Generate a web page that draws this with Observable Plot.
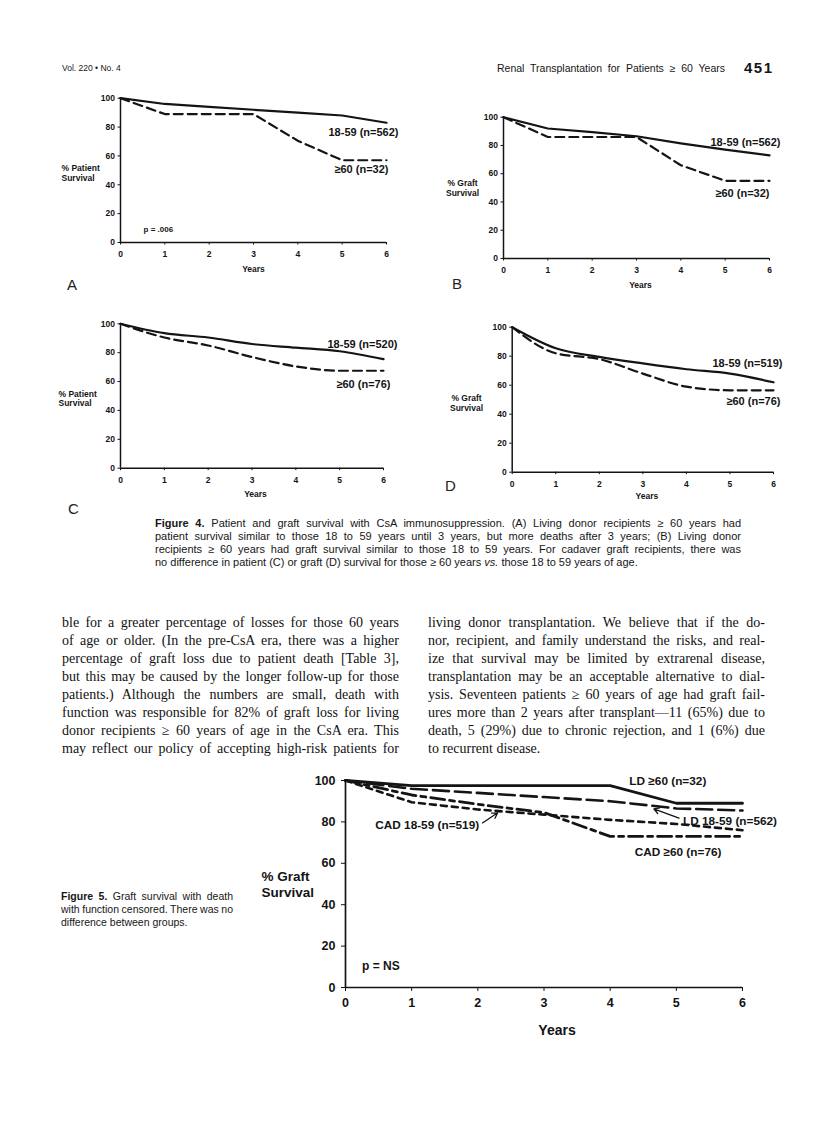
<!DOCTYPE html>
<html>
<head>
<meta charset="utf-8">
<script src="https://cdn.jsdelivr.net/npm/d3@7"></script>
<script src="https://cdn.jsdelivr.net/npm/@observablehq/plot@0.6"></script>
<style>
html,body{margin:0;padding:0;background:#fff;}
#page{position:relative;width:816px;height:1121px;overflow:hidden;background:#fff;color:#161616;font-family:"Liberation Sans",Arial,Helvetica,sans-serif;}
.t{position:absolute;white-space:nowrap;}
.chart{position:absolute;}
.chart svg{overflow:visible;}
</style>
</head>
<body>
<div id="page"></div>
<script>
// ---------- data ----------
const years = [0, 1, 2, 3, 4, 5, 6];
const yTicks = [0, 20, 40, 60, 80, 100];

// Figure 4A: patient survival, living donor
const aYoung = [100, 96, 94, 92, 90, 88, 83];
const aOld = [100, 89, 89, 89, 70.5, 57, 57];
// Figure 4B: graft survival, living donor
const bYoung = [100, 92, 89.5, 86.5, 81.5, 77, 73];
const bOld = [100, 86, 86, 86, 66, 55, 55];
// Figure 4C: patient survival, cadaver
const cYoung = [100, 93.5, 90.5, 86, 83.5, 81, 75.5];
const cOld = [100, 90.5, 85, 77, 70.5, 67.5, 67.5];
// Figure 4D: graft survival, cadaver
const dYoung = [100, 85.5, 79.5, 75, 71, 68, 62];
const dOld = [100, 82, 78, 68, 59, 56.5, 56.5];
// Figure 5: graft survival, death with function censored
const f5LdOld = [100, 97.5, 97.5, 97.5, 97.5, 89, 89];
const f5LdYoung = [100, 96, 94, 92, 90, 86.5, 85.5];
const f5CadYoung = [100, 89.5, 86, 83.5, 81, 79, 76];
const f5CadOld = [100, 93, 88.5, 84.5, 73, 73, 73];

const aNames = ["18-59 (n=562)", "≥60 (n=32)"];
const bNames = ["18-59 (n=562)", "≥60 (n=32)"];
const cNames = ["18-59 (n=520)", "≥60 (n=76)"];
const dNames = ["18-59 (n=519)", "≥60 (n=76)"];
const f5Names = ["LD ≥60 (n=32)", "LD 18-59 (n=562)", "CAD 18-59 (n=519)", "CAD ≥60 (n=76)"];

const headerLeft = "Vol. 220 • No. 4";
const headerTitle = "Renal Transplantation for Patients ≥ 60 Years";
const pageNumber = "451";

const cap4 = [
  "<b>Figure 4.</b> Patient and graft survival with CsA immunosuppression. (A) Living donor recipients ≥ 60 years had",
  "patient survival similar to those 18 to 59 years until 3 years, but more deaths after 3 years; (B) Living donor",
  "recipients ≥ 60 years had graft survival similar to those 18 to 59 years. For cadaver graft recipients, there was",
  "no difference in patient (C) or graft (D) survival for those ≥ 60 years <i>vs.</i> those 18 to 59 years of age."
];
const bodyLeft = [
  "ble for a greater percentage of losses for those 60 years",
  "of age or older. (In the pre-CsA era, there was a higher",
  "percentage of graft loss due to patient death [Table 3],",
  "but this may be caused by the longer follow-up for those",
  "patients.) Although the numbers are small, death with",
  "function was responsible for 82% of graft loss for living",
  "donor recipients ≥ 60 years of age in the CsA era. This",
  "may reflect our policy of accepting high-risk patients for"
];
const bodyRight = [
  "living donor transplantation. We believe that if the do-",
  "nor, recipient, and family understand the risks, and real-",
  "ize that survival may be limited by extrarenal disease,",
  "transplantation may be an acceptable alternative to dial-",
  "ysis. Seventeen patients ≥ 60 years of age had graft fail-",
  "ures more than 2 years after transplant—11 (65%) due to",
  "death, 5 (29%) due to chronic rejection, and 1 (6%) due",
  "to recurrent disease."
];
const cap5 = [
  "<b>Figure 5.</b> Graft survival with death",
  "with function censored. There was no",
  "difference between groups."
];

// ---------- page helpers ----------
const page = document.getElementById("page");
function addText(html, x, cy, css = {}, width = null) {
  const d = document.createElement("div");
  d.className = "t";
  d.innerHTML = html;
  const lh = css.lh || 16;
  Object.assign(d.style, {left: x + "px", top: (cy - lh / 2) + "px", lineHeight: lh + "px"});
  for (const k in css) if (k !== "lh") d.style[k] = css[k];
  page.appendChild(d);
  if (width) {
    const w = d.getBoundingClientRect().width;
    const n = (d.textContent.match(/ /g) || []).length;
    if (n > 0) d.style.wordSpacing = ((width - w) / n) + "px";
  }
  return d;
}

// ---------- chart helper ----------
const ink = "#141414";
function panel(cfg) {
  const {left, top, width, height, x0, x6, y100, y0} = cfg;
  const marks = [
    Plot.ruleY([0], {stroke: ink, strokeWidth: cfg.axisW}),
    Plot.ruleX([0], {stroke: ink, strokeWidth: cfg.axisW}),
    Plot.axisX(years, {tickSize: cfg.tick, tickPadding: cfg.xPad, label: null, fontSize: cfg.tickFont, stroke: ink}),
    Plot.axisY(yTicks, {tickSize: cfg.tick, tickPadding: cfg.yPad, label: null, fontSize: cfg.tickFont, stroke: ink}),
    ...cfg.series.map(s => Plot.line(s.values, {
      x: years, y: s.values, stroke: ink, strokeWidth: s.w,
      strokeDasharray: s.dash, curve: cfg.curve || "linear", strokeLinejoin: "round"
    })),
    ...cfg.texts.map(t => Plot.text([t.text], {
      x: [t.x], y: [t.y], text: [t.text], dx: t.dx || 0, dy: t.dy || 0,
      textAnchor: t.anchor || "middle", fontSize: t.size, fontWeight: t.weight || "bold",
      lineHeight: t.lh || 1, fill: ink
    })),
    ...(cfg.arrows || []).map(a => Plot.arrow([a], {
      x1: "x1", y1: "y1", x2: "x2", y2: "y2", stroke: ink, strokeWidth: 1.3, headLength: 7
    }))
  ];
  const chart = Plot.plot({
    width, height,
    marginLeft: x0 - left, marginRight: left + width - x6,
    marginTop: y100 - top, marginBottom: top + height - y0,
    x: {domain: [0, 6]}, y: {domain: [0, 100]},
    style: {fontFamily: "'Liberation Sans', Arial, sans-serif", fontWeight: "bold",
            fontSize: cfg.tickFont + "px", color: ink, background: "transparent", overflow: "visible"},
    marks
  });
  const wrap = document.createElement("div");
  wrap.className = "chart";
  wrap.style.left = left + "px";
  wrap.style.top = top + "px";
  wrap.appendChild(chart);
  page.appendChild(wrap);
}

const pDash = "9,5";
function fig4(cfg, young, old, names, ylab, extra = []) {
  panel({
    ...cfg, axisW: 1.5, tick: 2.5, xPad: 6, yPad: 3, tickFont: 8.5,
    series: [
      {values: young, w: 2.2},
      {values: old, w: 2.2, dash: pDash}
    ],
    texts: [
      {text: names[0], x: 6, y: young[6], anchor: "end", dx: cfg.l1[0], dy: cfg.l1[1], size: 11},
      {text: names[1], x: 6, y: old[6], anchor: "end", dx: cfg.l2[0], dy: cfg.l2[1], size: 11},
      {text: ylab, x: 0, y: cfg.yl[1], anchor: cfg.yl[2], dx: cfg.yl[0], size: 8.5, lh: 1.15},
      {text: "Years", x: 3, y: 0, dx: cfg.yr[0], dy: cfg.yr[1], size: 8.5},
      ...extra
    ]
  });
}

// ---------- header ----------
addText(headerLeft, 62, 68, {fontSize: "8.5px", lh: 12});
addText(headerTitle, 497, 68, {fontSize: "10.5px", lh: 14}, 228);
addText(pageNumber, 744, 68, {fontSize: "15px", fontWeight: "bold", letterSpacing: "1.5px", lh: 18});

// ---------- Figure 4 panels ----------
fig4({left: 20, top: 80, width: 400, height: 210, x0: 120, x6: 386, y100: 97.7, y0: 242,
      l1: [12, 10], l2: [2, 9], yl: [-59, 48.5, "start"], yr: [0, 27]},
     aYoung, aOld, aNames, "% Patient\nSurvival",
     [{text: "p = .006", x: 0.52, y: 8.8, anchor: "start", size: 8}]);
fig4({left: 420, top: 100, width: 380, height: 200, x0: 503, x6: 769, y100: 116.7, y0: 258,
      l1: [11, -13], l2: [0, 13], yl: [-41, 49.8, "middle"], yr: [4, 27]},
     bYoung, bOld, bNames, "% Graft\nSurvival");
fig4({left: 20, top: 310, width: 400, height: 210, x0: 120, x6: 383, y100: 323.3, y0: 467.7, curve: "monotone-x",
      l1: [14, -15], l2: [7, 14], yl: [-62, 48.3, "start"], yr: [3.5, 25.6]},
     cYoung, cOld, cNames, "% Patient\nSurvival");
fig4({left: 420, top: 312, width: 380, height: 200, x0: 511.7, x6: 773, y100: 326.7, y0: 471.7, curve: "monotone-x",
      l1: [9, -19], l2: [7, 11], yl: [-45.7, 47.7, "middle"], yr: [4, 24]},
     dYoung, dOld, dNames, "% Graft\nSurvival");

// panel letters
const letterCss = {fontSize: "15px", fontWeight: "normal", color: "#222", lh: 18};
addText("A", 67, 285, letterCss);
addText("B", 452, 284, letterCss);
addText("C", 68, 509, letterCss);
addText("D", 445, 486, letterCss);

// ---------- Figure 4 caption ----------
cap4.forEach((s, i) => addText(s, 155, 523 + i * 13, {fontSize: "11px", lh: 13}, i < 3 ? 586 : null));

// ---------- body text ----------
const bodyCss = {fontFamily: "'Liberation Serif', 'Times New Roman', serif", fontSize: "14px", color: "#111", lh: 18};
bodyLeft.forEach((s, i) => addText(s, 62, 623 + i * 18, bodyCss, 337));
bodyRight.forEach((s, i) => addText(s, 428, 623 + i * 18, bodyCss, i < 7 ? 337 : null));

// ---------- Figure 5 ----------
panel({
  left: 240, top: 760, width: 570, height: 300, x0: 345, x6: 742, y100: 780, y0: 987,
  axisW: 1.7, tick: 4, xPad: 7, yPad: 6, tickFont: 12.5,
  series: [
    {values: f5LdOld, w: 2.8},
    {values: f5LdYoung, w: 2.6, dash: "16,6"},
    {values: f5CadYoung, w: 2.6, dash: "6,5"},
    {values: f5CadOld, w: 2.8, dash: "14,5,5,5"}
  ],
  texts: [
    {text: f5Names[0], x: 4.29, y: 99.5, anchor: "start", size: 11.8},
    {text: f5Names[1], x: 5.1, y: 80.5, anchor: "start", size: 11.8},
    {text: f5Names[2], x: 2.02, y: 78.5, anchor: "end", size: 11.8},
    {text: f5Names[3], x: 4.37, y: 65.5, anchor: "start", size: 11.8},
    {text: "% Graft\nSurvival", x: 0, y: 50, dx: -84, anchor: "start", size: 13.5, lh: 1.15},
    {text: "p = NS", x: 0.25, y: 10.5, anchor: "start", size: 12},
    {text: "Years", x: 3, y: 0, dx: 13, dy: 43, size: 14}
  ],
  arrows: [
    {x1: 5.04, y1: 81.8, x2: 4.66, y2: 86.3},
    {x1: 2.07, y1: 79.5, x2: 2.3, y2: 84.4}
  ]
});

// ---------- Figure 5 caption ----------
cap5.forEach((s, i) => addText(s, 61, 896 + i * 13, {fontSize: "10.5px", lh: 13}, i < 2 ? 172 : null));
</script>
</body>
</html>
